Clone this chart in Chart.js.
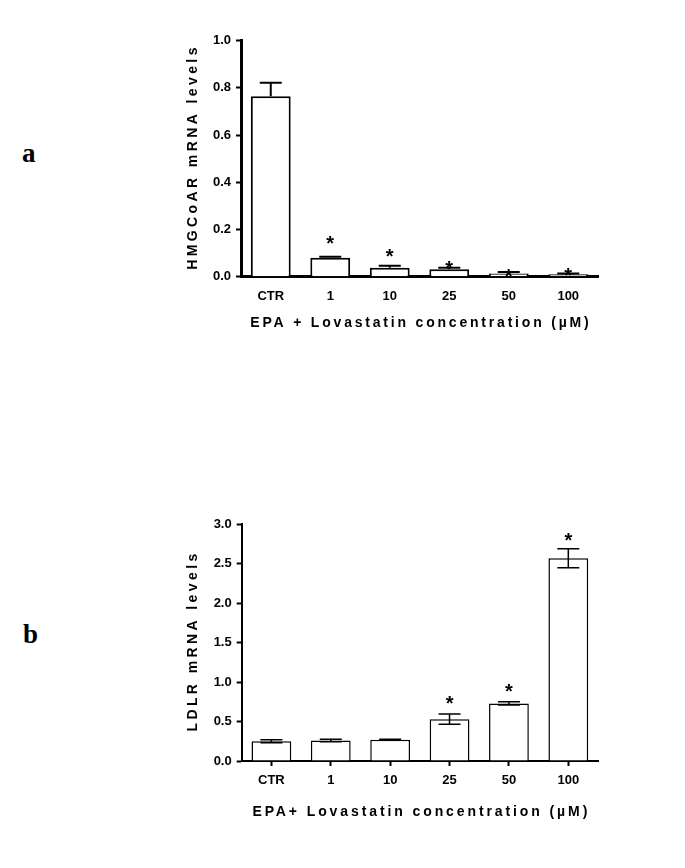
<!DOCTYPE html>
<html>
<head>
<meta charset="utf-8">
<script src="https://cdn.jsdelivr.net/npm/chart.js@4.4.0/dist/chart.umd.min.js"></script>
<style>
body { margin:0; background:#fff; width:685px; height:868px; position:relative; overflow:hidden; }
.painel { position:absolute; font-family:"Liberation Serif","Times New Roman",serif; font-weight:bold; font-size:27px; line-height:1; color:#000; }
.caixa { position:absolute; }
</style>
</head>
<body>
<div class="painel" style="left:22px;top:140px">a</div>
<div class="painel" style="left:23px;top:621px">b</div>
<div class="caixa" style="left:150px;top:20px;width:460px;height:330px"><canvas id="chartA"></canvas></div>
<div class="caixa" style="left:150px;top:500px;width:460px;height:340px"><canvas id="chartB"></canvas></div>
<script>
//Dados
const categorias = ['CTR', '1', '10', '25', '50', '100'];

//Painel a - HMGCoAR
const hmgMedia = [0.765, 0.080, 0.038, 0.032, 0.014, 0.010];
const hmgErro = [0.057, 0.005, 0.008, 0.006, 0.006, 0.004];
const hmgAsterisco = [null, 0.157, 0.101, 0.052, 0.019, 0.022];
const hmgTicks = [0, 0.2, 0.4, 0.6, 0.8, 1.0];

//Painel b - LDLR
const ldlrMedia = [0.25, 0.26, 0.27, 0.53, 0.73, 2.57];
const ldlrErro = [0.02, 0.015, 0.005, 0.065, 0.02, 0.12];
const ldlrAsterisco = [null, null, null, 0.78, 0.93, 2.84];
const ldlrTicks = [0, 0.5, 1.0, 1.5, 2.0, 2.5, 3.0];

const fonte = '"Liberation Sans", Arial, sans-serif';

//Desenha barras de erro, asteriscos e títulos dos eixos
const extras = {
    id: 'extras',
    afterDatasetsDraw(chart, args, opts) {
        const ctx = chart.ctx;
        const y = chart.scales.y;
        const area = chart.chartArea;
        const meta = chart.getDatasetMeta(0);
        ctx.save();
        ctx.strokeStyle = '#000';
        ctx.lineWidth = opts.espessura;
        opts.media.forEach((m, i) => {
            const cx = meta.data[i].x;
            const topo = y.getPixelForValue(m + opts.erro[i]);
            const base = opts.soCima ? y.getPixelForValue(m) : y.getPixelForValue(m - opts.erro[i]);
            ctx.beginPath();
            ctx.moveTo(cx, topo); ctx.lineTo(cx, base);
            ctx.moveTo(cx - 11, topo); ctx.lineTo(cx + 11, topo);
            if (!opts.soCima) { ctx.moveTo(cx - 11, base); ctx.lineTo(cx + 11, base); }
            ctx.stroke();
        });
        ctx.fillStyle = '#000';
        ctx.font = 'bold 20px ' + fonte;
        ctx.textAlign = 'center';
        ctx.textBaseline = 'middle';
        opts.asterisco.forEach((v, i) => {
            if (v == null) return;
            ctx.fillText('*', meta.data[i].x, y.getPixelForValue(v) + 5);
        });
        //Títulos com espaçamento entre letras
        ctx.font = 'bold 14px ' + fonte;
        ctx.letterSpacing = opts.espacoX + 'px';
        ctx.fillText(opts.tituloX, (area.left + area.right) / 2 + opts.espacoX / 2, area.bottom + opts.distX);
        ctx.letterSpacing = opts.espacoY + 'px';
        ctx.translate(area.left - opts.distY, (area.top + area.bottom) / 2);
        ctx.rotate(-Math.PI / 2);
        ctx.fillText(opts.tituloY, opts.espacoY / 2, 0);
        ctx.restore();
    }
};

function criarGrafico(id, media, ticksY, cfg) {
    return new Chart(document.getElementById(id), {
        type: 'bar',
        data: {
            labels: categorias,
            datasets: [{
                data: media,
                backgroundColor: '#fff',
                borderColor: '#000',
                borderWidth: cfg.barraBorda,
                barPercentage: 0.67,
                categoryPercentage: 1
            }]
        },
        options: {
            responsive: true,
            maintainAspectRatio: false,
            animation: false,
            layout: { padding: { top: cfg.topo, right: 12, left: 0, bottom: 0 } },
            plugins: {
                legend: { display: false },
                tooltip: { enabled: false },
                extras: cfg.extras
            },
            scales: {
                x: {
                    offset: true,
                    grid: { display: cfg.ticksX, offset: false, drawOnChartArea: false, drawTicks: cfg.ticksX, tickLength: 5, tickWidth: 2, tickColor: '#000' },
                    border: { display: true, color: '#000', width: cfg.eixo },
                    ticks: { color: '#000', padding: cfg.ticksX ? 7 : 12, font: { family: fonte, size: 13, weight: 'bold' } },
                    afterFit: s => { s.height = cfg.alturaX; }
                },
                y: {
                    min: ticksY[0],
                    max: ticksY[ticksY.length - 1],
                    afterBuildTicks: s => { s.ticks = ticksY.map(v => ({ value: v })); },
                    grid: { drawOnChartArea: false, drawTicks: true, tickLength: 5, tickWidth: 2, tickColor: '#000' },
                    border: { display: true, color: '#000', width: cfg.eixo },
                    ticks: { color: '#000', padding: 5, callback: v => v.toFixed(1), font: { family: fonte, size: 13, weight: 'bold' } },
                    afterFit: s => { s.width = cfg.larguraY; }
                }
            }
        },
        plugins: [extras]
    });
}

criarGrafico('chartA', hmgMedia, hmgTicks, {
    barraBorda: 2, topo: 20.7, eixo: 3, ticksX: false, alturaX: 73.3, larguraY: 91,
    extras: {
        media: hmgMedia, erro: hmgErro, asterisco: hmgAsterisco, soCima: true, espessura: 2,
        tituloX: 'EPA + Lovastatin concentration (\u00B5M)', espacoX: 2.8, distX: 46.5,
        tituloY: 'HMGCoAR mRNA levels', espacoY: 3.4, distY: 48
    }
});

criarGrafico('chartB', ldlrMedia, ldlrTicks, {
    barraBorda: 1.5, topo: 24.3, eixo: 2, ticksX: true, alturaX: 79, larguraY: 91.7,
    extras: {
        media: ldlrMedia, erro: ldlrErro, asterisco: ldlrAsterisco, soCima: false, espessura: 1.5,
        tituloX: 'EPA+ Lovastatin concentration (\u00B5M)', espacoX: 2.9, distX: 50.7,
        tituloY: 'LDLR mRNA levels', espacoY: 3.4, distY: 48.7
    }
});
</script>
</body>
</html>
